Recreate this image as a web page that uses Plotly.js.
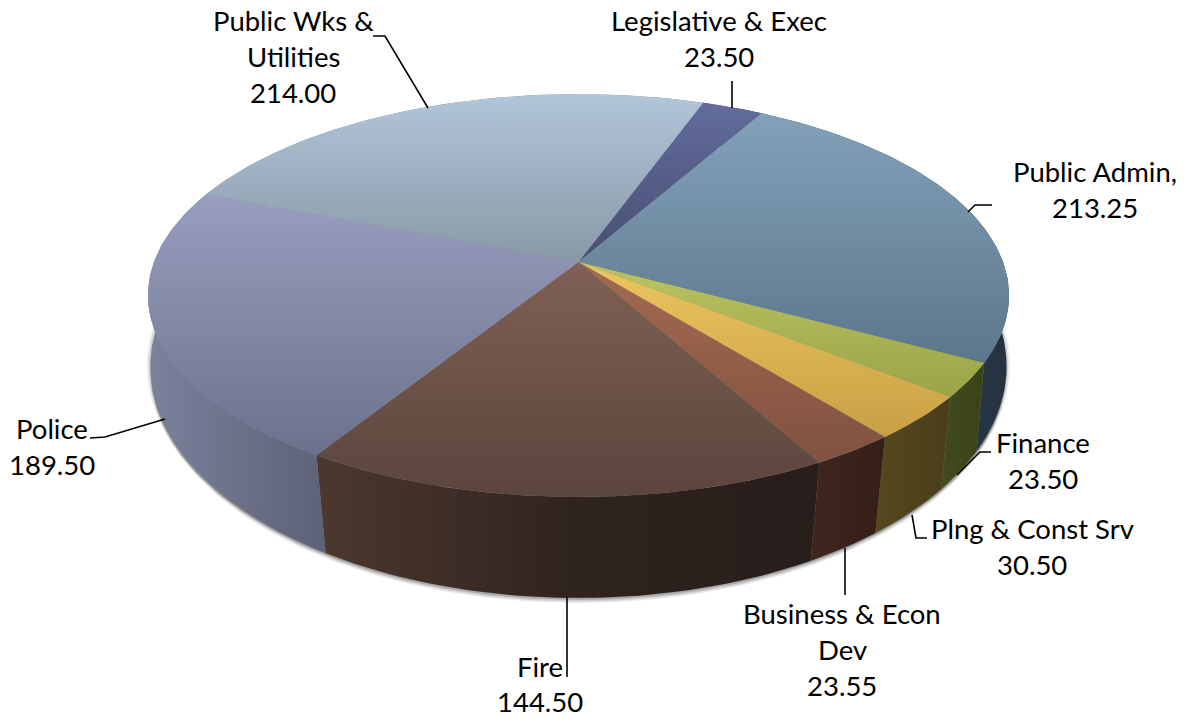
<!DOCTYPE html>
<html><head><meta charset="utf-8">
<script src="https://cdn.plot.ly/plotly-3.0.1.min.js"></script>
<style>html,body{margin:0;padding:0;background:#fff}#c{width:1187px;height:719px}</style>
</head><body><div id="c"></div>
<script>
// Data, clockwise from the back of the pie
const categories = ["Legislative & Exec","Public Admin,","Finance","Plng & Const Srv","Business & Econ Dev","Fire","Police","Public Wks & Utilities"];
const values = [23.50,213.25,23.50,30.50,23.55,144.50,189.50,214.00];
const topColorsStart = ["#626c9e","#82a2b9","#bcc462","#ecc660","#a56a52","#806054","#999ebf","#b2c6da"];
const topColorsEnd   = ["#474f70","#5c768c","#98a446","#c6a044","#805240","#5a453d","#6c718c","#8898a6"];
const wallColorsStart = ["#3a4060","#32465a","#434c20","#58481f","#40261d","#4c382e","#7a829c","#7a829c"];
const wallColorsMid   = ["#3a4060","#2c3e50","#3e471c","#50421b","#3a221b","#30241f","#6c7189","#7a829c"];
const wallColorsEnd   = ["#3a4060","#243240","#3a4218","#4a3d18","#341f19","#271d1a","#5e6277","#7a829c"];
const labelLines = [["Legislative & Exec","23.50"],["Public Admin,","213.25"],["Finance","23.50"],["Plng & Const Srv","30.50"],["Business & Econ","Dev","23.55"],["Fire","144.50"],["Police","189.50"],["Public Wks &","Utilities","214.00"]];

// Projection of the top and the base of the pie onto the page
const cx=578.5, startDeg=21;
const topP={k:-0.1663,A:152.3,B:262,C:424.5};
const botP={k:-0.13,A:184.4,B:335.8,C:424.4};
const rad=d=>d*Math.PI/180;
function project(P,t){
  const tw=t-0.9-0.7*Math.sin(rad(t));
  const X=Math.sin(rad(tw)),Y=-Math.cos(rad(tw)),w=1+P.k*Y;
  return [cx+P.C*X/w,(P.A*Y+P.B)/w];
}
const topPt=t=>project(topP,t), botPt=t=>project(botP,t);
function arc(fn,a,b){const n=Math.max(2,Math.ceil(Math.abs(b-a)));const o=[];for(let i=0;i<=n;i++)o.push(fn(a+(b-a)*i/n));return o;}

const total=values.reduce((s,v)=>s+v,0);
let acc=startDeg; const spans=values.map(v=>{const a=acc;acc+=v/total*360;return [a,acc];});

const traces=[];
// soft shadow under the base
[[5,0.10],[3.5,0.14],[2,0.22]].forEach(([d,op])=>{
  const pts=arc(botPt,0,360);
  traces.push({type:'scatter',mode:'lines',x:pts.map(p=>p[0]),y:pts.map(p=>p[1]+d),fill:'toself',fillcolor:`rgba(40,40,40,${op})`,line:{width:0},hoverinfo:'skip'});
  const l=pts.map(p=>[cx+(p[0]-cx)*(1+d*0.0018),p[1]]);
  traces.push({type:'scatter',mode:'lines',x:l.map(p=>p[0]),y:l.map(p=>p[1]),fill:'toself',fillcolor:`rgba(40,40,40,${op*0.5})`,line:{width:0},hoverinfo:'skip'});
});
// walls
spans.forEach(([a,b],i)=>{
  const t=arc(topPt,a,b), u=arc(botPt,a,b).reverse(), p=t.concat(u); p.push(p[0]);
  const xs=p.map(q=>q[0]);
  traces.push({type:'scatter',mode:'lines',x:xs,y:p.map(q=>q[1]),fill:'toself',line:{width:0},hoverinfo:'skip',
    fillgradient:{type:'horizontal',colorscale:[[0,wallColorsStart[i]],[0.5,wallColorsMid[i]],[1,wallColorsEnd[i]]],start:Math.min(...xs),stop:Math.max(...xs)}});
});
// top faces
spans.forEach(([a,b],i)=>{
  const p=[[cx,topP.B]].concat(arc(topPt,a,b)); p.push([cx,topP.B]);
  const ys=p.map(q=>q[1]);
  traces.push({type:'scatter',mode:'lines',x:p.map(q=>q[0]),y:ys,fill:'toself',line:{width:0},hoverinfo:'skip',name:categories[i],
    fillgradient:{type:'vertical',colorscale:[[0,topColorsStart[i]],[1,topColorsEnd[i]]],start:Math.min(...ys),stop:Math.max(...ys)}});
});

// label placement: centre x, first line y, line gap
const labelPos=[[719,20.5],[1095,171.5],[1043,442.5],[1032,528.5],[842,613.5],[540,666],[52,428.5],[293,20.5]];
const labelGap=[36,36,36,36,36,35,36,36];
const annotations=[];
labelLines.forEach((ls,i)=>ls.forEach((s,j)=>annotations.push({x:labelPos[i][0],y:labelPos[i][1]+j*labelGap[i],xref:'x',yref:'y',text:s.replace(/&/g,'&amp;'),showarrow:false,xanchor:'center',yanchor:'middle',font:{family:'Lato, Carlito, sans-serif',size:27.5,color:'#000'}})));
const leaderPaths=["M732,81 L732,108","M992,205 L975,205 L968,212","M991,452 L980,452 L957,475","M912,515 L916,538 L927,538","M845,548 L845,595","M567,597 L567,677","M90,438 L105,437 L165,419","M373,36 L385,36 L428,108"];
const shapes=leaderPaths.map(d=>({type:'path',path:d,xref:'x',yref:'y',line:{color:'#000',width:1.6},layer:'above'}));

Plotly.newPlot('c',traces,{width:1187,height:719,margin:{l:0,r:0,t:0,b:0},paper_bgcolor:'#fff',plot_bgcolor:'#fff',showlegend:false,
  xaxis:{range:[0,1187],visible:false,fixedrange:true},yaxis:{range:[719,0],visible:false,fixedrange:true},annotations,shapes},{displayModeBar:false,staticPlot:true});
</script></body></html>
